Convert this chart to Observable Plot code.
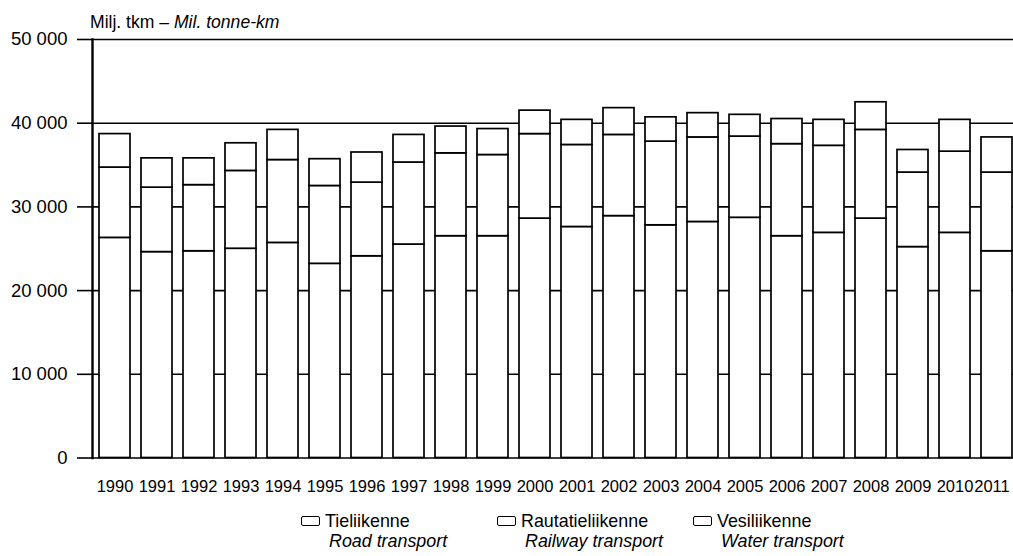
<!DOCTYPE html>
<html>
<head>
<meta charset="utf-8">
<script src="https://cdn.jsdelivr.net/npm/d3@7"></script>
<script src="https://cdn.jsdelivr.net/npm/@observablehq/plot@0.6"></script>
<style>
  html, body { margin: 0; padding: 0; background: #fff; }
  #wrap { position: relative; width: 1013px; height: 556px; overflow: hidden; font-family: "Liberation Sans", Arial, sans-serif; color: #000; }
  #title { position: absolute; left: 90px; top: 12.5px; font-size: 18.5px; line-height: 18.5px; white-space: nowrap; transform: scaleX(0.95); transform-origin: left top; }
  #chart { position: absolute; left: 0; top: 32px; }
  .lg { position: absolute; font-size: 19px; line-height: 19px; white-space: nowrap; transform: scaleX(0.94); transform-origin: left top; }
  .box { position: absolute; width: 17px; height: 8px; border: 1.6px solid #000; border-radius: 2px; background: #fff; }
</style>
</head>
<body>
<div id="wrap">
  <div id="title">Milj. tkm – <i>Mil. tonne-km</i></div>
  <div id="chart"></div>
  <div id="legend"></div>
</div>
<script>
const years = [1990,1991,1992,1993,1994,1995,1996,1997,1998,1999,2000,2001,2002,2003,2004,2005,2006,2007,2008,2009,2010,2011];
const road  = [26300,24600,24700,25000,25700,23200,24100,25500,26500,26500,28600,27600,28900,27800,28200,28700,26500,26900,28600,25200,26900,24700];
const rail  = [8400,7700,7900,9300,9900,9300,8800,9800,9900,9700,10100,9800,9700,10000,10100,9700,11000,10400,10600,8900,9700,9400];
const water = [4000,3500,3200,3300,3600,3200,3600,3300,3200,3100,2800,3000,3200,2900,2900,2600,3000,3100,3300,2700,3800,4200];
const seriesFi = ["Tieliikenne","Rautatieliikenne","Vesiliikenne"];
const seriesEn = ["Road transport","Railway transport","Water transport"];
const yTicks = [0,10000,20000,30000,40000,50000];

const seriesValues = [road, rail, water];
const data = [];
seriesValues.forEach((vals, s) => {
  years.forEach((yr, i) => data.push({year: String(yr), series: seriesFi[s], value: vals[i]}));
});

const fmt = d => d === 0 ? "0" : d3.format(",")(d).replace(/,/g, " ");

const chart = Plot.plot({
  width: 1013,
  height: 470,
  marginTop: 7,
  marginBottom: 44.5,
  marginLeft: 92,
  marginRight: 0,
  style: {fontFamily: '"Liberation Sans", Arial, sans-serif', fontSize: "18.5px", color: "#000", background: "transparent", overflow: "visible"},
  x: {domain: years.map(String), range: [92, 1020.2], paddingInner: 0.252, paddingOuter: 0.15},
  y: {domain: [0, 50000]},
  marks: [
    Plot.ruleY(yTicks.filter(d => d > 0), {stroke: "#000", strokeWidth: 1.6}),
    Plot.barY(data, Plot.stackY({order: null}, {x: "year", y: "value", fill: "#fff", stroke: "#000", strokeWidth: 1.7})),
    Plot.ruleY([0], {stroke: "#000", strokeWidth: 1.6}),
    Plot.frame({anchor: "left", stroke: "#000", strokeWidth: 2.4}),
    Plot.axisY({ticks: yTicks, tickFormat: fmt, tickSize: 15, tickPadding: 10, strokeWidth: 1.6, label: null, fontSize: 18.5}),
    Plot.axisX({tickSize: 0, tickPadding: 22, label: null, fontSize: 16.5})
  ]
});
const xLabels = d3.select(chart).selectAll('g[aria-label="x-axis tick label"] text');
// keep the last (edge) label inside the picture
d3.select(xLabels.nodes()[xLabels.size() - 1]).attr("dx", -5);
document.getElementById("chart").appendChild(chart);

// legend
const legend = document.getElementById("legend");
const boxX = [300.7, 496.7, 692.7];
seriesFi.forEach((name, i) => {
  const b = document.createElement("div");
  b.className = "box";
  b.style.left = boxX[i] + "px";
  b.style.top = "516px";
  legend.appendChild(b);
  const t1 = document.createElement("div");
  t1.className = "lg";
  t1.style.left = (boxX[i] + 24.5) + "px";
  t1.style.top = "511.2px";
  t1.textContent = name;
  legend.appendChild(t1);
  const t2 = document.createElement("div");
  t2.className = "lg";
  t2.style.left = (boxX[i] + 28.5) + "px";
  t2.style.top = "530.6px";
  t2.style.fontStyle = "italic";
  t2.textContent = seriesEn[i];
  legend.appendChild(t2);
});
</script>
</body>
</html>
